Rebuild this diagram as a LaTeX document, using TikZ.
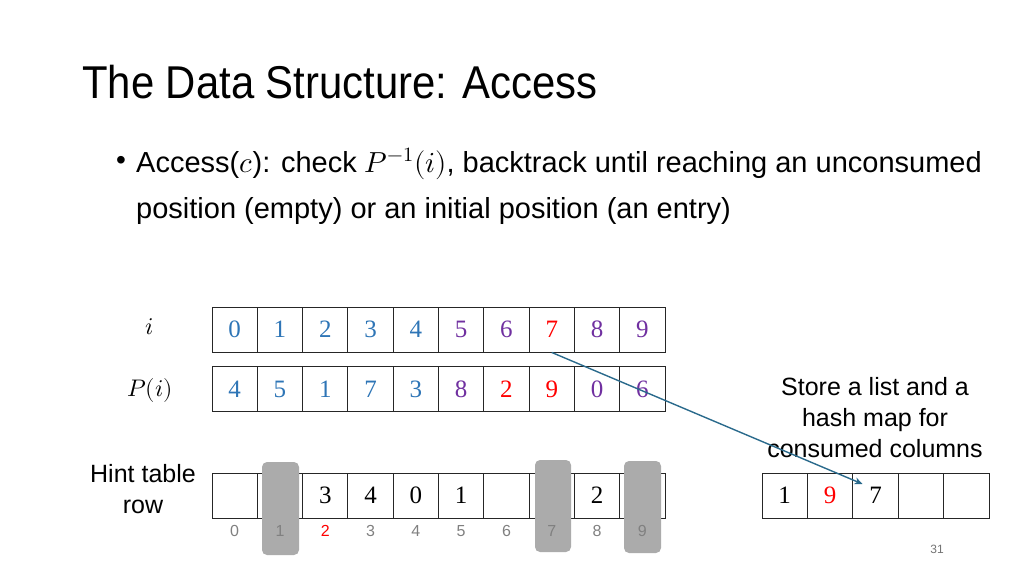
\documentclass[tikz,border=0pt]{standalone}
\usepackage{fontspec}
\usepackage{unicode-math}
\setmainfont{Liberation Sans}
\setmathfont{Latin Modern Math}
\newfontfamily\digitfont{Liberation Serif}
\usetikzlibrary{arrows.meta}
\definecolor{idxblue}{HTML}{2E75B6}
\definecolor{idxpurple}{HTML}{7030A0}
\definecolor{idxred}{HTML}{FF0000}
\definecolor{linkteal}{HTML}{2A6A8C}
\definecolor{hidegray}{HTML}{ABABAB}
\tikzset{
  cell/.style={draw=black!85, line width=0.9pt, minimum width=45.3pt,
    minimum height=45pt, inner sep=0pt,
    font=\digitfont\fontsize{25}{25}\selectfont},
  idxlabel/.style={text=black!50, font=\fontsize{16}{16}\selectfont},
  sidelabel/.style={align=center, font=\fontsize{25}{31}\selectfont},
  bodytext/.style={anchor=base west, inner sep=0pt, font=\fontsize{29}{29}\selectfont},
  link/.style={linkteal, line width=1.4pt, -{Stealth[length=8pt,width=7pt]}}
}
\begin{document}
\begin{tikzpicture}[x=1pt,y=-1pt]
\useasboundingbox (0,0) rectangle (1024,576);
% Title and bullet text
\node[anchor=base west, inner sep=0pt, xscale=0.91, transform shape,
  font=\fontsize{46}{46}\selectfont] (title) at (82,98) {The Data Structure: Access};
\node[inner sep=0pt, font=\fontsize{28}{28}\selectfont] (bullet) at (121,163) {•};
\node[bodytext] (line1) at (136,172)
  {Access($c$): check $P^{-1}(i)$, backtrack until reaching an unconsumed};
\node[bodytext] (line2) at (136,218) {position (empty) or an initial position (an entry)};
% Row labels
\node[font=\fontsize{24}{24}\selectfont] (ilabel) at (150,327) {$i$};
\node[font=\fontsize{24}{24}\selectfont] (plabel) at (150,390) {$P(i)$};
\node[sidelabel] (hintlabel) at (143,489) {Hint table\\row};
% Index row i
\foreach \v/\c [count=\k from 0] in {0/idxblue,1/idxblue,2/idxblue,3/idxblue,4/idxblue,
    5/idxpurple,6/idxpurple,7/idxred,8/idxpurple,9/idxpurple}
  \node[cell, text=\c] (i\k) at (234.65+45.3*\k,329.5) {\v};
% Row P(i)
\foreach \v/\c [count=\k from 0] in {4/idxblue,5/idxblue,1/idxblue,7/idxblue,3/idxblue,
    8/idxpurple,2/idxred,9/idxred,0/idxpurple,6/idxpurple}
  \node[cell, text=\c] (p\k) at (234.65+45.3*\k,389) {\v};
% Hint table row
\foreach \v [count=\k from 0] in {{},{},3,4,0,1,{},{},2,{}}
  \node[cell] (h\k) at (234.65+45.3*\k,495.5) {\v};
% Consumed columns hidden by gray bars
\fill[hidegray, rounded corners=5pt] (262,462) rectangle (299,555);
\fill[hidegray, rounded corners=5pt] (535,460) rectangle (571,552);
\fill[hidegray, rounded corners=5pt] (624,461) rectangle (661,553);
\foreach \k in {0,1,3,4,5,6,7,8,9}
  \node[idxlabel] (n\k) at (234.65+45.3*\k,531) {\k};
\node[idxlabel, text=idxred] (n2) at (325.25,531) {2};
% List of consumed columns
\node[sidelabel] (storelabel) at (875,418) {Store a list and a\\hash map for\\consumed columns};
\foreach \v/\c [count=\k from 0] in {1/black,9/idxred,7/black,{}/black,{}/black}
  \node[cell, text=\c] (l\k) at (784.7+45.4*\k,495.5) {\v};
% Arrow from i = 7 into the list
\coordinate (lend) at ([shift={(-13,-11.5)}]l2.center);
\draw[link] (i7.south) -- (lend);
% Page number
\node[text=black!55, font=\fontsize{12}{12}\selectfont] (pagenum) at (937,549) {31};
\end{tikzpicture}
\end{document}
